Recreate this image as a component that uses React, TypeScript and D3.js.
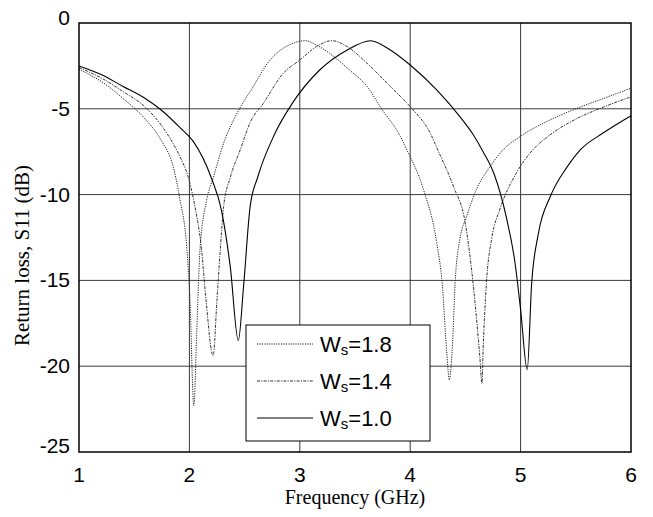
import React from "react";
import * as d3 from "d3";

const xTicks = [1, 2, 3, 4, 5, 6];
const yTicks = [0, -5, -10, -15, -20, -25];

const freq18 = [1.0,1.2,1.4,1.6,1.75,1.85,1.915,1.975,2.005,2.04,2.066,2.096,2.157,2.217,2.31,2.4,2.5,2.55,2.73,2.94,3.05,3.15,3.27,3.45,3.61,3.73,3.91,3.97,4.12,4.24,4.29,4.33,4.355,4.38,4.41,4.45,4.51,4.6,4.72,4.84,5.0,5.25,5.5,5.75,6.0];
const s18 = [-2.7,-3.4,-4.4,-5.6,-6.9,-8.3,-10.3,-13.0,-16.1,-22.3,-18.1,-13.2,-10.3,-9.0,-7.0,-5.65,-4.5,-4.0,-2.16,-1.18,-1.03,-1.28,-1.77,-2.74,-3.7,-4.9,-6.6,-7.4,-9.7,-12.8,-15.2,-19.1,-20.8,-19.1,-14.8,-12.6,-11.3,-9.7,-8.4,-7.4,-6.6,-5.7,-5.0,-4.4,-3.8];

const freq14 = [1.0,1.2,1.4,1.6,1.75,1.85,1.915,1.99,2.05,2.11,2.15,2.215,2.25,2.28,2.31,2.37,2.46,2.55,2.67,2.85,3.0,3.15,3.29,3.43,3.61,3.82,4.0,4.18,4.25,4.39,4.5,4.57,4.63,4.65,4.66,4.69,4.74,4.81,4.96,5.11,5.25,5.5,5.75,6.0];
const s14 = [-2.6,-3.2,-4.0,-4.9,-6.0,-7.0,-7.8,-9.0,-10.7,-13.2,-16.1,-19.4,-16.1,-13.2,-10.7,-9.0,-7.4,-5.8,-4.68,-2.93,-2.16,-1.38,-1.03,-1.38,-2.35,-3.7,-4.88,-6.4,-7.4,-9.5,-11.7,-15.2,-19.4,-21.0,-19.1,-15.2,-12.5,-10.9,-8.76,-7.4,-6.6,-5.6,-4.9,-4.3];

const freq10 = [1.0,1.2,1.4,1.6,1.75,1.915,2.035,2.2,2.29,2.37,2.443,2.49,2.55,2.62,2.77,2.93,3.18,3.43,3.64,3.82,4.0,4.24,4.45,4.57,4.66,4.76,4.87,4.95,5.0,5.06,5.1,5.16,5.27,5.42,5.54,5.75,6.0];
const s10 = [-2.5,-3.0,-3.7,-4.4,-5.1,-6.1,-6.9,-9.05,-10.9,-14.2,-18.5,-15.4,-10.7,-8.96,-6.5,-4.7,-2.74,-1.57,-1.03,-1.57,-2.45,-3.9,-5.46,-6.5,-7.5,-8.8,-11.3,-14.0,-16.7,-20.2,-15.2,-12.3,-10.1,-8.4,-7.4,-6.4,-5.4];

const seriesLabels = ["1.8", "1.4", "1.0"];

const W = 653, H = 517;
const m = { left: 79, right: 631, top: 23, bottom: 452 };

export default function App() {
  const x = d3.scaleLinear().domain([1, 6]).range([m.left, m.right]);
  const y = d3.scaleLinear().domain([-25, 0]).range([m.bottom, m.top]);
  const line = (fs: number[], vs: number[]) =>
    d3.line<number>().x((_, i) => x(fs[i])).y((v) => y(v)).curve(d3.curveMonotoneX)(vs) || "";

  const series = [
    { f: freq18, v: s18, dash: "1.2,1.2", color: "#222", w: 1 },
    { f: freq14, v: s14, dash: "3,1.2,1.2,1.2", color: "#333", w: 1 },
    { f: freq10, v: s10, dash: "", color: "#000", w: 1.1 },
  ];

  const legX = 246, legY = 325, legW = 184, legH = 116;
  const rowY = [344, 381, 418];

  return (
    <svg width={W} height={H} style={{ position: "absolute", left: 0, top: 0, background: "#fff" }}>
      <rect x={0} y={0} width={W} height={H} fill="#fff" />
      {xTicks.slice(1, -1).map((t) => (
        <line key={"gx" + t} x1={x(t)} x2={x(t)} y1={m.top} y2={m.bottom} stroke="#3a3a3a" strokeWidth={1} />
      ))}
      {yTicks.slice(1, -1).map((t) => (
        <line key={"gy" + t} x1={m.left} x2={m.right} y1={y(t)} y2={y(t)} stroke="#3a3a3a" strokeWidth={1} />
      ))}
      {series.map((s, i) => (
        <path key={i} d={line(s.f, s.v)} fill="none" stroke={s.color} strokeWidth={s.w} strokeDasharray={s.dash || undefined} />
      ))}
      <rect x={m.left} y={m.top} width={m.right - m.left} height={m.bottom - m.top} fill="none" stroke="#000" strokeWidth={1.5} />
      {xTicks.map((t) => (
        <text key={"xt" + t} x={x(t)} y={482} textAnchor="middle" fontFamily="Arial, 'Liberation Sans', sans-serif" fontSize={21} fill="#000">
          {t}
        </text>
      ))}
      {yTicks.map((t) => (
        <text key={"yt" + t} x={70} y={y(t) + 7 - (t === 0 ? 5 : t === -25 ? 6 : 0)} textAnchor="end" fontFamily="Arial, 'Liberation Sans', sans-serif" fontSize={21} fill="#000">
          {t}
        </text>
      ))}
      <text x={(m.left + m.right) / 2} y={504} textAnchor="middle" fontFamily="'Times New Roman', 'Liberation Serif', serif" fontSize={20} fill="#000">
        Frequency (GHz)
      </text>
      <text transform={`translate(29, ${(m.top + m.bottom) / 2 + 18}) rotate(-90)`} textAnchor="middle" fontFamily="'Times New Roman', 'Liberation Serif', serif" fontSize={21} fill="#000">
        Return loss, S11 (dB)
      </text>
      <rect x={legX} y={legY} width={legW} height={legH} fill="#fff" stroke="#000" strokeWidth={1} />
      {series.map((s, i) => (
        <g key={"lg" + i}>
          <line x1={257} x2={313} y1={rowY[i]} y2={rowY[i]} stroke={s.color} strokeWidth={s.w} strokeDasharray={s.dash || undefined} />
          <text x={320} y={rowY[i] + 8} fontFamily="Arial, 'Liberation Sans', sans-serif" fontSize={22} fill="#000">
            W<tspan fontSize={15} dy={3}>s</tspan><tspan dy={-3}>={seriesLabels[i]}</tspan>
          </text>
        </g>
      ))}
    </svg>
  );
}
